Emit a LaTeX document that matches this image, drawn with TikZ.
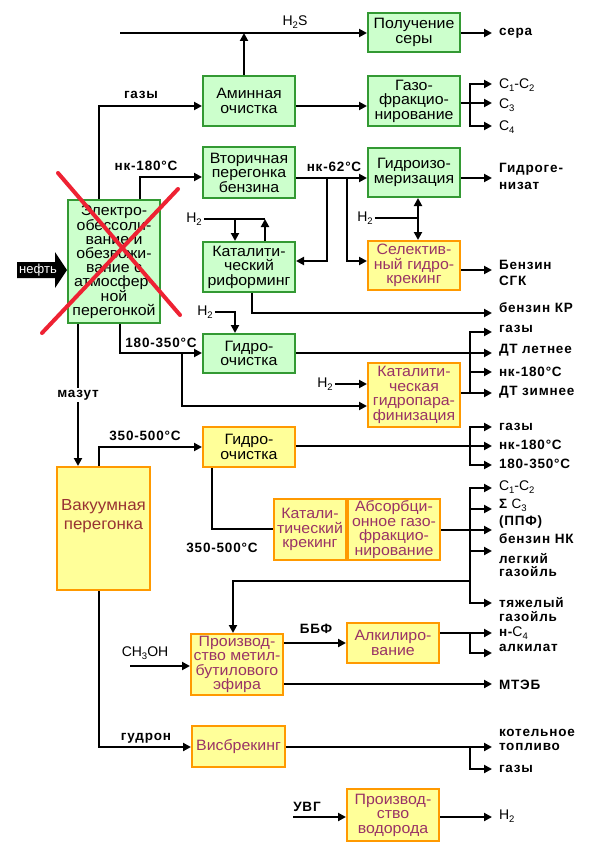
\documentclass[tikz,border=0pt]{standalone}
\usepackage{fontspec}
\setmainfont{Liberation Sans}
\newfontfamily\boxfam[FakeStretch=1.06]{Liberation Sans}
\newfontfamily\labfam[LetterSpace=6]{Liberation Sans}
\usetikzlibrary{arrows.meta}
\definecolor{gfill}{HTML}{CCFFCC}
\definecolor{gline}{HTML}{339933}
\definecolor{yfill}{HTML}{FFFF99}
\definecolor{oline}{HTML}{FF9900}
\definecolor{ytext}{HTML}{993366}
\definecolor{vtext}{HTML}{993333}
\definecolor{xred}{HTML}{EE2233}
\newcommand{\bxf}{\boxfam\fontsize{15}{14.5}\selectfont}
\newcommand{\lbf}{\labfam\bfseries\fontsize{13.5}{15}\selectfont}
\newcommand{\rgf}{\mdseries\fontsize{14}{15}\selectfont}
\newcommand{\chemsub}[1]{\raisebox{-0.35ex}{\fontsize{9.5}{10}\selectfont #1}}
\begin{document}
\begin{tikzpicture}[x=1pt,y=-1pt,
  gbox/.style={draw=gline, fill=gfill, line width=2pt, inner sep=0pt, align=center, font=\bxf, text=black},
  ybox/.style={draw=oline, fill=yfill, line width=2pt, inner sep=0pt, align=center, font=\bxf, text=ytext},
  ln/.style={line width=2pt},
  arr/.style={ln, -{Triangle[length=8pt,width=8pt]}},
  blab/.style={font=\lbf, inner sep=1pt, align=center},
  clab/.style={font=\rgf, inner sep=2pt},
  rlab/.style={font=\lbf, anchor=west, inner xsep=0pt, inner ysep=0pt, outer xsep=7pt, outer ysep=0pt, align=left}]
\fill[white] (0,0) rectangle (601,856);
\useasboundingbox (0,0) rectangle (601,856);

% ---------- boxes ----------
\node[gbox, minimum width=92pt, minimum height=39pt] (sulfur) at (414,32.5) {Получение\\серы};
\node[gbox, minimum width=92pt, minimum height=50pt] (amine) at (249,101) {Аминная\\очистка};
\node[gbox, minimum width=92pt, minimum height=50pt] (gasfrac) at (414,101) {Газо-\\фракцио-\\нирование};
\node[gbox, minimum width=92pt, minimum height=51pt] (second) at (249,172.5) {Вторичная\\перегонка\\бензина};
\node[gbox, minimum width=92pt, minimum height=49pt] (isom) at (414,172.5) {Гидроизо-\\меризация};
\node[gbox, minimum width=92pt, minimum height=123pt, font=\boxfam\fontsize{15}{14}\selectfont] (electro) at (114,261.5) {Электро-\\обессоли-\\вание и\\обезвожи-\\вание с\\атмосфер-\\ной\\перегонкой};
\node[gbox, minimum width=92pt, minimum height=50pt] (reform) at (249,267) {Каталити-\\ческий\\риформинг};
\node[ybox, minimum width=92pt, minimum height=49pt] (selective) at (414,265.5) {Селектив-\\ный гидро-\\крекинг};
\node[gbox, minimum width=92pt, minimum height=39pt] (hydro1) at (249,353.5) {Гидро-\\очистка};
\node[ybox, minimum width=92pt, minimum height=64pt] (paraf) at (414,395) {Каталити-\\ческая\\гидропара-\\финизация};
\node[ybox, minimum width=92pt, minimum height=40pt, text=black] (hydro2) at (249,447) {Гидро-\\очистка};
\node[ybox, minimum width=93pt, minimum height=123pt] (vacuum) at (103.5,528.5) {};
\node[font=\boxfam\fontsize{16}{19}\selectfont, text=vtext, align=center, inner sep=0pt] (vactxt) at (103.5,516) {Вакуумная\\перегонка};
\node[ybox, minimum width=72pt, minimum height=61pt] (catcr) at (310,529.5) {Катали-\\тический\\крекинг};
\node[ybox, minimum width=92pt, minimum height=61pt] (absorb) at (394,529.5) {Абсорбци-\\онное газо-\\фракцио-\\нирование};
\node[ybox, minimum width=92pt, minimum height=61pt] (mtbe) at (237,664.5) {Производ-\\ство метил-\\бутилового\\эфира};
\node[ybox, minimum width=92pt, minimum height=40pt] (alkyl) at (393,643) {Алкилиро-\\вание};
\node[ybox, minimum width=93pt, minimum height=41pt] (visb) at (238.5,746.5) {Висбрекинг};
\node[ybox, minimum width=92pt, minimum height=52pt] (hydrogen) at (393,815) {Производ-\\ство\\водорода};

% ---------- H2S / sulfur ----------
\coordinate (h2sL) at (120,33);
\draw[arr] (h2sL) -- (sulfur.west |- h2sL);
\draw[arr] (amine.north -| 244,0) -- (h2sL -| 244,0);
\node[clab] (h2s) at (295,22) {H\chemsub{2}S};
\node[rlab] (sera) at (492,33) {сера};
\draw[arr] (sulfur.east |- sera.west) -- (sera.west);

% ---------- gases ----------
\node[blab] (gazy0) at (141,95) {газы};
\draw[arr] (electro.north -| 99,0) |- (amine.west |- 0,106);
\draw[arr] (amine.east |- 0,106) -- (gasfrac.west |- 0,106);
\node[rlab, font=\rgf] (c12a) at (492,85) {C\chemsub{1}-C\chemsub{2}};
\node[rlab, font=\rgf] (c3a) at (492,105) {C\chemsub{3}};
\node[rlab, font=\rgf] (c4a) at (492,127) {C\chemsub{4}};
\coordinate (f1) at (470,103);
\draw[ln] (gasfrac.east |- f1) -- (f1);
\draw[arr] (f1) |- (c12a.west |- 0,84);
\draw[arr] (f1) -- (c3a.west |- f1);
\draw[arr] (f1) |- (c4a.west |- 0,126);

% ---------- naphtha ----------
\node[blab] (nk180a) at (146,166) {нк-180°C};
\draw[arr] (electro.north -| 140,0) |- (second.west |- 0,177);
\node[blab] (nk62) at (334,167) {нк-62°C};
\coordinate (s1) at (327,178);
\coordinate (s2) at (347,178);
\draw[arr] (second.east |- 0,178) -- (isom.west |- 0,178);
\draw[arr] (s1) |- (reform.east |- 0,261);
\draw[arr] (s2) |- (selective.west |- 0,261);
\node[rlab, font=\labfam\bfseries\fontsize{13.5}{17}\selectfont] (hgen) at (492,176.5) {Гидроге-\\низат};
\draw[arr] (isom.east |- 0,178) -- (hgen.west |- 0,178);

\node[clab] (h2b) at (365,218) {H\chemsub{2}};
\coordinate (j1) at (418,218);
\draw[ln] (h2b.east) -- (j1);
\draw[arr] (j1) -- (isom.south -| j1);
\draw[arr] (j1) -- (selective.north -| j1);
\node[rlab, font=\labfam\bfseries\fontsize{13.5}{16}\selectfont] (bsgk) at (492,273) {Бензин\\СГК};
\draw[arr] (selective.east |- 0,270) -- (bsgk.west |- 0,270);

\node[clab] (h2a) at (194,219) {H\chemsub{2}};
\coordinate (j2) at (265,219);
\coordinate (j3) at (235,219);
\draw[ln] (h2a.east) -- (j2);
\draw[arr] (j3) -- (reform.north -| j3);
\draw[arr] (reform.north -| j2) -- (j2);
\node[rlab] (bkr) at (492,308) {бензин КР};
\draw[arr] (reform.south -| 252,0) |- (bkr.west |- 0,313);

% ---------- diesel ----------
\node[clab] (h2c) at (205,312) {H\chemsub{2}};
\draw[arr] (h2c.east) -| (hydro1.north -| 235,0);
\node[blab] (t180) at (161,343) {180-350°C};
\coordinate (b1) at (182,353);
\draw[arr] (electro.south -| 120,0) |- (hydro1.west |- b1);
\draw[arr] (b1) |- (paraf.west |- 0,406);
\node[clab] (h2d) at (325,384) {H\chemsub{2}};
\draw[arr] (h2d.east) -- (paraf.west |- h2d.east);
\coordinate (f2) at (470,353);
\node[rlab] (gz1) at (492,329) {газы};
\node[rlab] (dtl) at (492,350) {ДТ летнее};
\node[rlab] (nk1) at (492,372) {нк-180°C};
\node[rlab] (dtz) at (492,392) {ДТ зимнее};
\draw[arr] (hydro1.east |- f2) -- (dtl.west |- f2);
\draw[arr] (f2) |- (gz1.west |- 0,332);
\draw[arr] (f2) |- (nk1.west |- 0,372);
\draw[arr] (f2) |- (dtz.west |- 0,393);
\draw[ln] (paraf.east |- 0,393) -- (f2 |- 0,393);

% ---------- mazut / vacuum ----------
\draw[arr] (electro.south -| 78,0) -- (vacuum.north -| 78,0);
\node[blab, fill=white, inner sep=2pt] (mazut) at (78,395) {мазут};
\node[blab] (t350a) at (145,436) {350-500°C};
\draw[arr] (vacuum.north -| 99,0) |- (hydro2.west |- 0,447);
\coordinate (f3) at (470,446);
\node[rlab] (gz2) at (492,427) {газы};
\node[rlab] (nk2) at (492,445) {нк-180°C};
\node[rlab] (t180b) at (492,464) {180-350°C};
\draw[arr] (hydro2.east |- f3) -- (nk2.west |- f3);
\draw[arr] (f3) |- (gz2.west |- 0,427);
\draw[arr] (f3) |- (t180b.west |- 0,465);

\node[blab] (t350b) at (222,548) {350-500°C};
\draw[ln] (hydro2.south -| 212,0) |- (catcr.west |- 0,529);

\coordinate (f4) at (470,530);
\node[rlab, font=\rgf] (c12b) at (492,487) {C\chemsub{1}-C\chemsub{2}};
\node[rlab, font=\labfam\bfseries\fontsize{13.5}{17}\selectfont] (sc3) at (492,514) {Σ {\mdseries C\chemsub{3}}\\(ППФ)};
\node[rlab] (bnk) at (492,539) {бензин НК};
\node[rlab, font=\labfam\bfseries\fontsize{13.5}{13.5}\selectfont] (lg) at (492,565) {легкий\\газойль};
\node[rlab, font=\labfam\bfseries\fontsize{13.5}{14}\selectfont] (tg) at (492,610) {тяжелый\\газойль};
\draw[arr] (absorb.east |- f4) -- (bnk.west |- f4);
\draw[arr] (f4) |- (c12b.west |- 0,488);
\draw[arr] (f4 |- 0,509) -- (sc3.west |- 0,509);
\draw[arr] (f4) |- (lg.west |- 0,551);
\draw[arr] (f4) |- (tg.west |- 0,603);
\draw[arr] (f4 |- 0,581) -| (mtbe.north -| 233,0);

% ---------- MTBE / alkylation ----------
\node[clab] (ch3oh) at (145,653) {CH\chemsub{3}OH};
\coordinate (ch3s) at (130,666);
\draw[arr] (ch3s) -- (mtbe.west |- ch3s);
\node[blab] (bbf) at (316,629) {ББФ};
\draw[arr] (mtbe.east |- 0,643) -- (alkyl.west |- 0,643);
\node[rlab] (mteb) at (492,685) {МТЭБ};
\draw[arr] (mtbe.east |- 0,684) -- (mteb.west |- 0,684);
\coordinate (f5) at (470,633);
\node[rlab] (nc4) at (492,633) {н-{\mdseries\fontsize{14}{15}\selectfont C\chemsub{4}}};
\node[rlab] (alk) at (492,648) {алкилат};
\draw[arr] (alkyl.east |- f5) -- (nc4.west |- f5);
\draw[arr] (f5) |- (alk.west |- 0,653);

% ---------- gudron / visbreaking ----------
\node[blab] (gudron) at (146,738) {гудрон};
\draw[arr] (vacuum.south -| 99,0) |- (visb.west |- 0,747);
\coordinate (f6) at (470,747);
\node[rlab, font=\labfam\bfseries\fontsize{13.5}{14}\selectfont] (kt) at (492,740) {котельное\\топливо};
\node[rlab] (gz3) at (492,769) {газы};
\draw[arr] (visb.east |- f6) -- (kt.west |- f6);
\draw[arr] (f6) |- (gz3.west |- 0,769);

% ---------- hydrogen ----------
\node[blab] (uvg) at (307,807) {УВГ};
\coordinate (uvgs) at (293,817);
\draw[arr] (uvgs) -- (hydrogen.west |- uvgs);
\node[rlab, font=\rgf] (h2out) at (492,816) {H\chemsub{2}};
\draw[arr] (hydrogen.east |- 0,817) -- (h2out.west |- 0,817);

% ---------- crude oil arrow ----------
\fill[black] (17,262) -- (55,262) -- (55,252) -- (electro.west |- 0,270) -- (55,288) -- (55,278) -- (17,278) -- cycle;
\node[text=white, font=\mdseries\fontsize{13}{14}\selectfont, inner sep=0pt] (neft) at (38,270) {нефть};

% ---------- red cross ----------
\draw[xred, line width=4pt, line cap=round] (58,173) -- (180,315) (178,189) -- (42,333);
\end{tikzpicture}
\end{document}
